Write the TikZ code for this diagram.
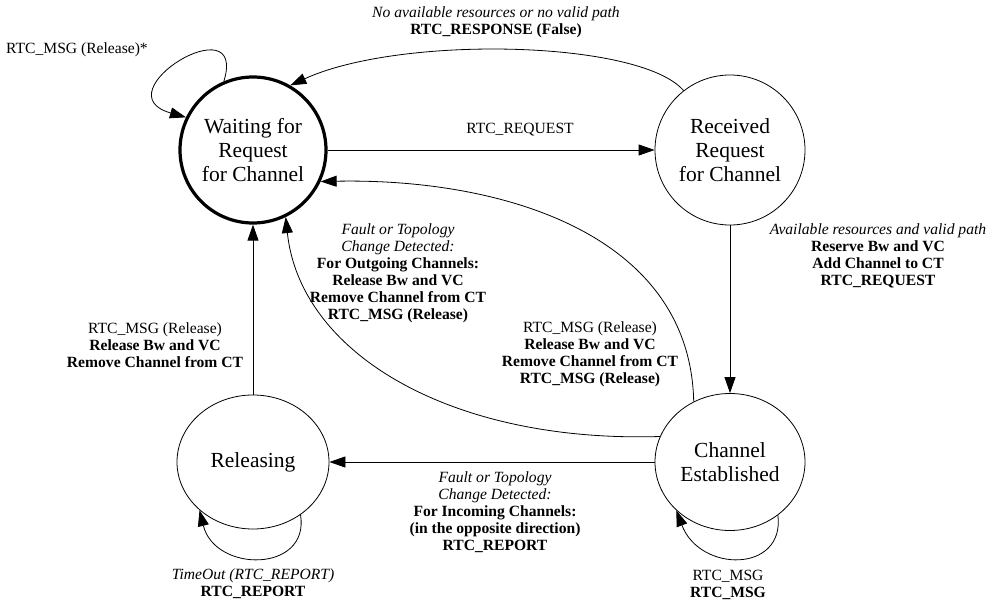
\documentclass[tikz,border=0pt]{standalone}
\usepackage{fontspec}
\setmainfont{Liberation Serif}
\usetikzlibrary{arrows.meta,shapes.geometric}

\begin{document}
\begin{tikzpicture}[x=1pt, y=1pt, >={Triangle[length=16pt,width=11pt]},
    state/.style={circle, draw, line width=0.8pt, align=center, inner sep=0pt,
      font=\fontsize{21.5}{24}\selectfont},
    lbl/.style={align=center, inner sep=0pt, font=\fontsize{15.6}{17}\selectfont}]
  \useasboundingbox (0,0) rectangle (988,603);
  \node (wait) [state, minimum size=146pt, line width=3.2pt] at (253,453) {Waiting for\\Request\\for Channel};
  \node (recv) [state, minimum size=150pt] at (730,453) {Received\\Request\\for Channel};
  \node (est) [state, ellipse, minimum width=150pt, minimum height=137pt] at (730,141) {Channel\\Established};
  \node (rel) [state, ellipse, minimum width=152pt, minimum height=134pt] at (253,141) {Releasing};

 \begin{scope}[line width=0.8pt]
  \draw[->] (wait) -- (recv);
  \draw[->] (recv.128) .. controls (640,563) and (400,568) .. (wait.60);
  \draw[->] (wait.113) .. controls (248,600) and (100,510) .. (wait.154);
  \draw[->] (recv) -- (est);
  \draw[->] (est.121) .. controls (690,370) and (500,425) .. (wait.-25);
  \draw[->] (est.160) .. controls (450,160) and (300,250) .. (wait.-64);
  \draw[->] (est) -- (rel);
  \draw[->] (rel) -- (wait);
  \draw[->] (rel.-48) .. controls (310,30) and (215,30) .. (rel.222);
  \draw[->] (est.-48) .. controls (785,30) and (700,30) .. (est.222);
 \end{scope}

 \begin{scope}[every node/.style={lbl}]
  \node (reqlbl) at (520,473) {RTC\_REQUEST};
  \node (falselbl) at (496,581) {\textit{No available resources or no valid path}\\\textbf{RTC\_RESPONSE (False)}};
  \node (loopwlbl) at (77,553) {RTC\_MSG (Release)*};
  \node (reservelbl) at (878,347) {\textit{Available resources and valid path}\\\textbf{Reserve Bw and VC}\\\textbf{Add Channel to CT}\\\textbf{RTC\_REQUEST}};
  \node (outlbl) at (398,330) {\textit{Fault or Topology}\\\textit{Change Detected:}\\\textbf{For Outgoing Channels:}\\\textbf{Release Bw and VC}\\\textbf{Remove Channel from CT}\\\textbf{RTC\_MSG (Release)}};
  \node (msglbl) at (590,249) {RTC\_MSG (Release)\\\textbf{Release Bw and VC}\\\textbf{Remove Channel from CT}\\\textbf{RTC\_MSG (Release)}};
  \node (inlbl) at (495,91) {\textit{Fault or Topology}\\\textit{Change Detected:}\\\textbf{For Incoming Channels:}\\\textbf{(in the opposite direction)}\\\textbf{RTC\_REPORT}};
  \node (rellbl) at (155,258) {RTC\_MSG (Release)\\\textbf{Release Bw and VC}\\\textbf{Remove Channel from CT}};
  \node (timelbl) at (253,19) {\textit{TimeOut (RTC\_REPORT)}\\\textbf{RTC\_REPORT}};
  \node (estlbl) at (728,18) {RTC\_MSG\\\textbf{RTC\_MSG}};
 \end{scope}
\end{tikzpicture}
\end{document}
